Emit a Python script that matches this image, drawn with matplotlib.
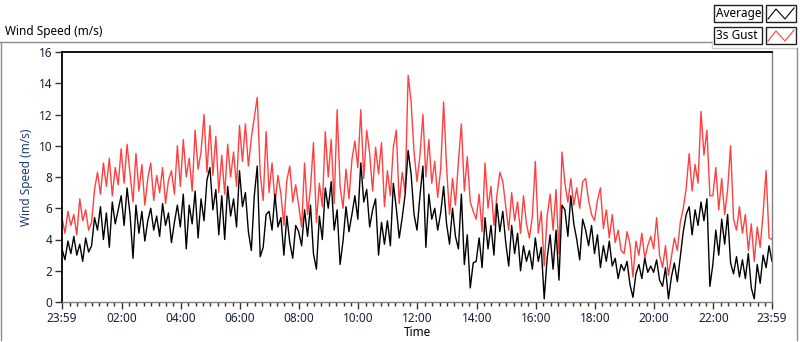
import numpy as np
import matplotlib
matplotlib.use("Agg")
from matplotlib import pyplot as plt
from matplotlib.patches import Rectangle
from matplotlib.lines import Line2D

plt.rcParams['font.family'] = ['Noto Sans', 'DejaVu Sans']

# Time axis: minutes after midnight, one sample every 6 min from 23:59 to 23:59
START_MIN = -1
STEP_MIN = 6

# 3s gust (m/s), one row per hour
gust = [
    5.4, 4.4, 5.8, 4.9, 5.6, 4.3, 6.6, 5.2, 5.9, 4.6,
    5.1, 7.2, 8.3, 6.9, 8.9, 7.4, 9.2, 6.8, 8.6, 7.5,
    9.8, 7.6, 10.1, 8.2, 6.4, 9.5, 7.1, 8.8, 6.2, 7.9,
    8.9, 6.5, 8.1, 7.0, 8.6, 6.3, 7.8, 8.4, 6.9, 10.0,
    7.4, 10.4, 8.0, 9.2, 7.1, 11.0, 8.5, 9.6, 12.0, 8.3,
    11.3, 8.1, 10.6, 7.0, 9.4, 6.9, 10.1, 8.0, 9.6, 7.4,
    11.3, 9.0, 11.4, 8.7, 10.5, 11.8, 13.1, 8.2, 6.5, 10.9,
    7.0, 8.9, 6.3, 8.1, 6.9, 4.9, 7.8, 8.7, 6.4, 7.5,
    6.2, 4.8, 8.9, 5.6, 7.3, 10.2, 5.1, 7.6, 6.1, 10.9,
    8.0, 10.4, 6.3, 12.3, 7.4, 6.0, 8.5, 6.6, 9.1, 10.3,
    8.6, 12.3, 7.9, 11.0, 9.5, 7.1, 9.9, 8.2, 10.2, 6.1,
    8.4, 6.8, 9.9, 11.0, 6.3, 8.3, 7.0, 14.5, 12.8, 9.6,
    7.7, 9.4, 12.0, 8.0, 10.4, 7.6, 9.0, 6.7, 8.5, 12.8,
    8.6, 5.6, 7.9, 6.2, 9.0, 11.4, 7.1, 9.3, 6.4, 5.8,
    5.3, 6.9, 4.5, 8.9, 6.0, 7.4, 4.9, 6.8, 8.3, 7.7,
    6.1, 4.6, 7.0, 5.2, 6.4, 4.4, 6.8, 5.0, 4.1, 5.5,
    9.0, 4.4, 5.8, 2.3, 5.5, 6.9, 4.6, 7.2, 3.1, 9.6,
    7.6, 6.4, 7.9, 6.2, 7.3, 6.0, 7.7, 7.9, 6.5, 5.6,
    5.2, 6.5, 7.3, 4.7, 5.9, 4.1, 5.6, 3.8, 4.6, 3.3,
    3.1, 4.5, 3.7, 1.6, 3.9, 3.0, 4.4, 2.8, 3.6, 4.2,
    3.4, 5.4, 3.0, 2.2, 3.6, 1.7, 2.9, 4.1, 3.3, 5.1,
    6.0, 7.3, 9.5, 7.1, 8.8, 7.6, 12.2, 9.4, 11.0, 6.8,
    6.8, 8.6, 5.9, 7.9, 5.6, 7.2, 10.0, 5.3, 4.6, 6.1,
    4.4, 5.6, 3.3, 5.0, 2.6, 4.8, 3.5, 5.7, 8.4, 4.1,
    4.0,
]

# Average (m/s)
average = [
    3.4, 2.7, 3.9, 3.1, 4.2, 3.0, 3.7, 2.6, 4.1, 3.2,
    3.6, 5.4, 4.6, 6.1, 4.0, 5.7, 3.5, 6.4, 5.0, 5.9,
    6.8, 4.9, 7.3, 5.6, 2.8, 6.2, 4.4, 5.8, 3.9, 5.2,
    6.0, 4.6, 5.5, 4.2, 6.3, 4.9, 5.7, 3.8, 5.1, 6.2,
    4.8, 6.9, 3.4, 6.2, 5.0, 7.1, 4.1, 6.6, 5.2, 7.8,
    8.6, 5.9, 7.2, 4.3, 6.8, 4.0, 7.4, 5.5, 6.6, 4.8,
    8.4, 6.1, 7.0, 4.5, 3.3, 6.8, 8.7, 2.9, 3.5, 5.6,
    5.8, 4.6, 6.9, 4.8, 5.4, 3.0, 5.5, 3.8, 2.8, 4.9,
    4.5, 3.6, 5.9, 4.2, 6.2, 3.1, 2.1, 5.5, 4.0, 7.3,
    6.0, 7.7, 4.6, 5.9, 2.4, 3.9, 6.1, 4.5, 5.6, 6.8,
    5.3, 8.9, 6.4, 7.2, 4.8, 5.9, 6.6, 3.0, 5.1, 3.7,
    5.2, 3.6, 7.6, 6.0, 4.1, 5.4, 6.9, 9.7, 8.2, 5.6,
    4.6, 6.8, 8.7, 3.5, 6.9, 5.3, 6.0, 4.6, 5.7, 7.4,
    5.0, 3.7, 6.0, 4.2, 3.4, 6.9, 2.4, 4.3, 0.9, 2.5,
    2.6, 4.1, 2.2, 5.4, 3.4, 4.9, 3.0, 6.3, 4.5, 5.8,
    3.8, 2.3, 4.9, 3.1, 4.4, 2.0, 3.6, 2.6, 3.3, 2.1,
    4.1, 2.6, 3.5, 0.2, 2.8, 4.3, 2.1, 4.6, 1.4, 6.2,
    5.9, 4.2, 6.8, 5.0, 4.0, 2.7, 5.3, 4.6, 3.6, 4.9,
    3.1, 4.3, 2.2, 3.6, 2.6, 3.9, 2.3, 2.8, 1.5, 2.4,
    2.0, 2.6, 1.1, 0.3, 1.8, 2.4, 1.5, 2.8, 1.9, 2.3,
    1.9, 2.7, 1.4, 1.0, 2.2, 0.2, 1.6, 2.5, 1.3, 2.9,
    4.5, 5.6, 6.1, 4.3, 5.9, 4.9, 6.4, 5.2, 6.6, 1.0,
    2.4, 4.6, 3.0, 5.3, 3.7, 5.6, 2.5, 1.8, 2.9, 1.6,
    2.7, 1.5, 3.1, 0.9, 0.2, 2.4, 1.2, 3.0, 2.2, 3.6,
    2.6,
]

x_major = [-1, 120, 240, 360, 480, 600, 720, 840, 960, 1080, 1200, 1320, 1439]
x_labels = ["23:59", "02:00", "04:00", "06:00", "08:00", "10:00", "12:00",
            "14:00", "16:00", "18:00", "20:00", "22:00", "23:59"]
y_major = [0, 2, 4, 6, 8, 10, 12, 14, 16]

W, H = 800, 342
RED = '#ff4040'
TICK_COL = '#14203c'


def fx(x):
    return x / W


def fy(y):
    return 1 - y / H


def main():
    t = START_MIN + STEP_MIN * np.arange(len(gust))

    fig = plt.figure(figsize=(W / 100, H / 100), dpi=100)
    ax = fig.add_axes([fx(62), fy(302), fx(772) - fx(62), fy(52) - fy(302)])

    ax.plot(t, gust, color=RED, lw=1.0)
    ax.plot(t, average, color='black', lw=1.0)

    ax.set_xlim(-1, 1439)
    ax.set_ylim(0, 16)
    ax.set_xticks(x_major)
    ax.set_xticklabels(x_labels)
    minors = [m for m in range(15, 1439, 15) if m not in x_major]
    ax.set_xticks(minors, minor=True)
    ax.set_yticks(y_major)
    ax.tick_params(axis='both', which='major', direction='out', length=5,
                   width=1, colors='#333333', labelcolor=TICK_COL, labelsize=8.5, pad=2)
    ax.tick_params(axis='x', which='minor', direction='out', length=3, width=1, colors='#333333')

    for side in ['top', 'left']:
        ax.spines[side].set_color('black')
        ax.spines[side].set_linewidth(1.3)
    for side in ['right', 'bottom']:
        ax.spines[side].set_color('#808080')
        ax.spines[side].set_linewidth(1.0)

    ax.set_ylabel('Wind Speed (m/s)', color='#1c3c6c', fontsize=8.5, labelpad=4)
    ax.set_xlabel('Time', color='black', fontsize=8.5, labelpad=1)

    # outer panel frame
    grey = '#8c8c8c'
    fig.add_artist(Line2D([fx(1), fx(1)], [fy(42), fy(340)], color=grey, lw=1))
    fig.add_artist(Line2D([fx(0), fx(712)], [fy(42), fy(42)], color=grey, lw=1))
    fig.add_artist(Line2D([fx(712), fx(712)], [fy(42), fy(48)], color='#d0d0d0', lw=1))
    fig.add_artist(Line2D([fx(712), fx(797)], [fy(48), fy(48)], color='#d0d0d0', lw=1))
    fig.add_artist(Line2D([fx(797), fx(797)], [fy(48), fy(340)], color=grey, lw=1))

    fig.text(fx(5), fy(32), 'Wind Speed (m/s)', fontsize=8.5, va='center', ha='left')

    # legend boxes
    for row, (name, col) in enumerate([('Average', 'black'), ('3s Gust', RED)]):
        y0 = 5 + row * 22
        fig.add_artist(Rectangle((fx(714), fy(y0 + 17)), fx(762) - fx(714), fy(y0) - fy(y0 + 17),
                                 facecolor='white', edgecolor='#202020', lw=1))
        fig.text(fx(716), fy(y0 + 8.5), name, fontsize=8.5, va='center', ha='left')
        fig.add_artist(Rectangle((fx(766), fy(y0 + 17)), fx(796) - fx(766), fy(y0) - fy(y0 + 17),
                                 facecolor='white', edgecolor='#202020', lw=1))
        zx = [768, 776, 785, 794]
        zy = [y0 + 14, y0 + 4, y0 + 14, y0 + 3]
        fig.add_artist(Line2D([fx(v) for v in zx], [fy(v) for v in zy], color=col, lw=0.8))

    fig.savefig('out.png', dpi=100)


if __name__ == "__main__":
    main()
